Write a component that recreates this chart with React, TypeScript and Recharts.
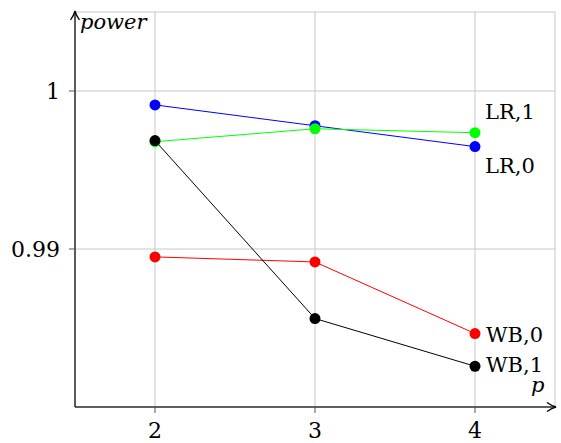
import React from 'react';
import { LineChart, Line, XAxis, YAxis, CartesianGrid, ReferenceDot } from 'recharts';

// Rejection rates (power) against the dimension p
const pValues = [2, 3, 4];
const lr0 = [0.99912, 0.9978, 0.99648];
const wb0 = [0.9895, 0.98918, 0.98465];
const lr1 = [0.99679, 0.99761, 0.99736];
const wb1 = [0.99686, 0.9856, 0.98258];
const seriesNames = ['LR,0', 'WB,0', 'LR,1', 'WB,1'];
const seriesKeys = ['lr0', 'wb0', 'lr1', 'wb1'];
const seriesColors = ['#0000ff', '#ff0000', '#00ff00', '#000000'];
const xTicks = [2, 3, 4];
const yTicks = [0.99, 1];
const xDomain = [1.5, 4.5];
const yDomain = [0.98, 1.005];
const xAxisTitle = 'p';
const yAxisTitle = 'power';

const data = pValues.map((p, i) => ({
  p,
  lr0: lr0[i],
  wb0: wb0[i],
  lr1: lr1[i],
  wb1: wb1[i],
}));

const FONT = "'DejaVu Serif', serif";
const fontStyle = { fontFamily: FONT };

// end-of-line label offsets for each series
const labelOffsets: Record<string, [number, number]> = {
  lr0: [10, 26],
  wb0: [11, 8],
  lr1: [10, -14],
  wb1: [11, 6],
};

const makeEndLabel = (key: string, name: string) => (props: any) => {
  const { x, y, index } = props;
  if (index !== pValues.length - 1) return <g />;
  const [dx, dy] = labelOffsets[key];
  return (
    <text x={x + dx} y={y + dy} style={{ ...fontStyle, fontSize: 21 }} fill="#000">
      {name}
    </text>
  );
};

const RightArrow = (props: any) => {
  const { cx, cy } = props;
  return (
    <g>
      <path
        d={`M${cx - 8},${cy - 4.5} Q${cx - 3},${cy - 1} ${cx + 1},${cy} Q${cx - 3},${cy + 1} ${cx - 8},${cy + 4.5}`}
        fill="none"
        stroke="#000"
        strokeWidth={1.3}
      />
      <text x={cx - 24} y={cy - 15} style={{ ...fontStyle, fontSize: 21, fontStyle: 'italic' }} fill="#000">
        {xAxisTitle}
      </text>
    </g>
  );
};

const UpArrow = (props: any) => {
  const { cx, cy } = props;
  return (
    <g>
      <path
        d={`M${cx - 4.5},${cy + 8} Q${cx - 1},${cy + 3} ${cx},${cy - 1} Q${cx + 1},${cy + 3} ${cx + 4.5},${cy + 8}`}
        fill="none"
        stroke="#000"
        strokeWidth={1.3}
      />
      <text x={cx + 5} y={cy + 17} style={{ ...fontStyle, fontSize: 21, fontStyle: 'italic' }} fill="#000">
        {yAxisTitle}
      </text>
    </g>
  );
};

export default function App() {
  return (
    <div style={{ position: 'absolute', left: 0, top: 0, background: '#fff', fontFamily: FONT }}>
      <LineChart
        width={561}
        height={443}
        data={data}
        margin={{ top: 12, right: 6, left: 0, bottom: 0 }}
        style={fontStyle}
      >
        <CartesianGrid stroke="#c8c8c8" strokeWidth={1} />
        <XAxis
          dataKey="p"
          type="number"
          domain={xDomain}
          ticks={xTicks}
          allowDataOverflow
          height={36}
          axisLine={{ stroke: '#333', strokeWidth: 1.4 }}
          tickLine={{ stroke: '#555' }}
          tickSize={6}
          tickMargin={9}
          tick={{ fill: '#000', fontSize: 22, style: fontStyle }}
        />
        <YAxis
          type="number"
          domain={yDomain}
          ticks={yTicks}
          allowDataOverflow
          width={75}
          axisLine={{ stroke: '#000', strokeWidth: 1.2 }}
          tickLine={{ stroke: '#555' }}
          tickSize={6}
          tickMargin={9}
          tickFormatter={(v: number) => String(v)}
          tick={{ fill: '#000', fontSize: 22, style: fontStyle }}
        />
        {seriesKeys.map((key, i) => (
          <Line
            key={key}
            dataKey={key}
            name={seriesNames[i]}
            stroke={seriesColors[i]}
            strokeWidth={1}
            isAnimationActive={false}
            dot={{ r: 5.5, fill: seriesColors[i], stroke: seriesColors[i], strokeWidth: 0 }}
            activeDot={false}
            label={makeEndLabel(key, seriesNames[i])}
          />
        ))}
        <ReferenceDot x={xDomain[1]} y={yDomain[0]} ifOverflow="visible" shape={RightArrow} />
        <ReferenceDot x={xDomain[0]} y={yDomain[1]} ifOverflow="visible" shape={UpArrow} />
      </LineChart>
    </div>
  );
}
